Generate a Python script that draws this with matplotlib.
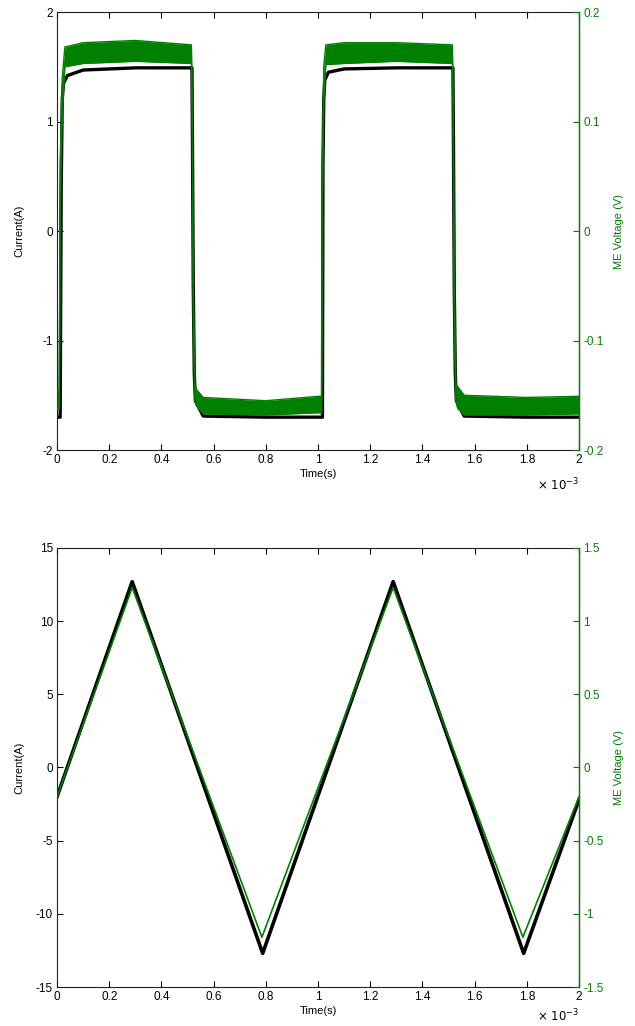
import numpy as np
import matplotlib.pyplot as plt

plt.rcParams['font.family'] = ['Liberation Sans', 'DejaVu Sans']
plt.rcParams['axes.unicode_minus'] = False

GREEN = '#008000'

# ---- top panel: square wave (time in ms) ----
sq_t = [0, 0.012, 0.016, 0.02, 0.025, 0.04, 0.1, 0.3, 0.517, 0.519, 0.522, 0.526, 0.53, 0.56, 0.8,
        1.017, 1.019, 1.022, 1.026, 1.04, 1.1, 1.3, 1.517, 1.519, 1.522, 1.526, 1.53, 1.56, 1.8, 2.0]
sq_current = [-1.70, -1.70, 0.4, 1.2, 1.35, 1.42, 1.47, 1.49, 1.49, 0.8, -0.5, -1.3, -1.55, -1.69, -1.70,
              -1.70, 0.6, 1.2, 1.38, 1.45, 1.48, 1.49, 1.49, 0.8, -0.5, -1.3, -1.55, -1.69, -1.70, -1.70]

sq_vt = [0, 0.009, 0.012, 0.02, 0.03, 0.1, 0.3, 0.515, 0.518, 0.522, 0.528, 0.535, 0.56, 0.8, 1.0,
         1.014, 1.017, 1.022, 1.03, 1.1, 1.3, 1.515, 1.518, 1.522, 1.528, 1.535, 1.56, 1.8, 2.0]
sq_v_hi = [-0.145, -0.145, 0.06, 0.14, 0.168, 0.172, 0.174, 0.170, 0.12, -0.05, -0.14, -0.145, -0.152, -0.155, -0.151,
           -0.151, 0.06, 0.15, 0.170, 0.172, 0.172, 0.170, 0.12, -0.05, -0.14, -0.142, -0.150, -0.152, -0.151]
sq_v_lo = [-0.162, -0.162, 0.02, 0.11, 0.150, 0.153, 0.155, 0.153, 0.10, -0.08, -0.155, -0.160, -0.167, -0.168, -0.166,
           -0.166, 0.03, 0.12, 0.152, 0.153, 0.155, 0.153, 0.10, -0.08, -0.155, -0.162, -0.168, -0.168, -0.167]

# ---- bottom panel: triangle wave ----
tri_t = [0, 0.288, 0.788, 1.288, 1.788, 2.0]
tri_current = [-2.0, 12.7, -12.7, 12.7, -12.7, -2.2]
tri_vt = [0, 0.288, 0.785, 1.288, 1.785, 2.0]
tri_voltage = [-0.2, 1.23, -1.16, 1.23, -1.16, -0.2]

xticks = [0, 0.2, 0.4, 0.6, 0.8, 1, 1.2, 1.4, 1.6, 1.8, 2]
xlabels = ['0', '0.2', '0.4', '0.6', '0.8', '1', '1.2', '1.4', '1.6', '1.8', '2']

fig = plt.figure(figsize=(6.35, 10.26), dpi=100)
ax1 = fig.add_axes([0.0898, 0.5614, 0.822, 0.4269])
ax3 = fig.add_axes([0.0898, 0.0380, 0.822, 0.4279])


def style(ax, ylim, yticks, ylabels, ylim2, yticks2, ylabels2, exp_y):
    ax.set_xlim(0, 2)
    ax.set_ylim(*ylim)
    ax.set_xticks(xticks)
    ax.set_xticklabels(xlabels)
    ax.set_yticks(yticks)
    ax.set_yticklabels(ylabels)
    ax.tick_params(direction='in', length=4, labelsize=8.5, top=True, right=False, pad=3)
    ax.set_xlabel('Time(s)', fontsize=8, labelpad=2)
    ax.set_ylabel('Current(A)', fontsize=8)
    ax.yaxis.set_label_coords(-0.062, 0.5)
    for s in ax.spines.values():
        s.set_color('#222222')
        s.set_linewidth(0.8)
    ax.text(1.0, exp_y, r'$\times\ 10^{-3}$', transform=ax.transAxes,
            ha='right', va='center', fontsize=8.5)
    ax2 = ax.twinx()
    ax2.set_ylim(*ylim2)
    ax2.set_yticks(yticks2)
    ax2.set_yticklabels(ylabels2)
    ax2.tick_params(direction='in', length=4, labelsize=8.5, colors=GREEN, pad=3)
    ax2.spines['right'].set_color(GREEN)
    ax2.spines['right'].set_linewidth(1.0)
    for side in ['left', 'top', 'bottom']:
        ax2.spines[side].set_visible(False)
    ax2.set_ylabel('ME Voltage (V)', fontsize=8, color=GREEN)
    ax2.yaxis.set_label_coords(1.068, 0.5)
    return ax2


ax2 = style(ax1, (-2, 2), [-2, -1, 0, 1, 2], ['-2', '-1', '0', '1', '2'],
            (-0.2, 0.2), [-0.2, -0.1, 0, 0.1, 0.2], ['-0.2', '-0.1', '0', '0.1', '0.2'], -0.08)
ax1.plot(sq_t, sq_current, color='black', lw=2.4)
ax2.fill_between(sq_vt, sq_v_lo, sq_v_hi, color=GREEN, lw=0)
ax2.plot(sq_vt, sq_v_hi, color=GREEN, lw=1)
ax2.plot(sq_vt, sq_v_lo, color=GREEN, lw=1)

ax4 = style(ax3, (-15, 15), [-15, -10, -5, 0, 5, 10, 15], ['-15', '-10', '-5', '0', '5', '10', '15'],
            (-1.5, 1.5), [-1.5, -1, -0.5, 0, 0.5, 1, 1.5], ['-1.5', '-1', '-0.5', '0', '0.5', '1', '1.5'], -0.066)
ax3.plot(tri_t, tri_current, color='black', lw=2.6)
ax4.plot(tri_vt, tri_voltage, color=GREEN, lw=1.2)

fig.savefig('out.png', dpi=100)
